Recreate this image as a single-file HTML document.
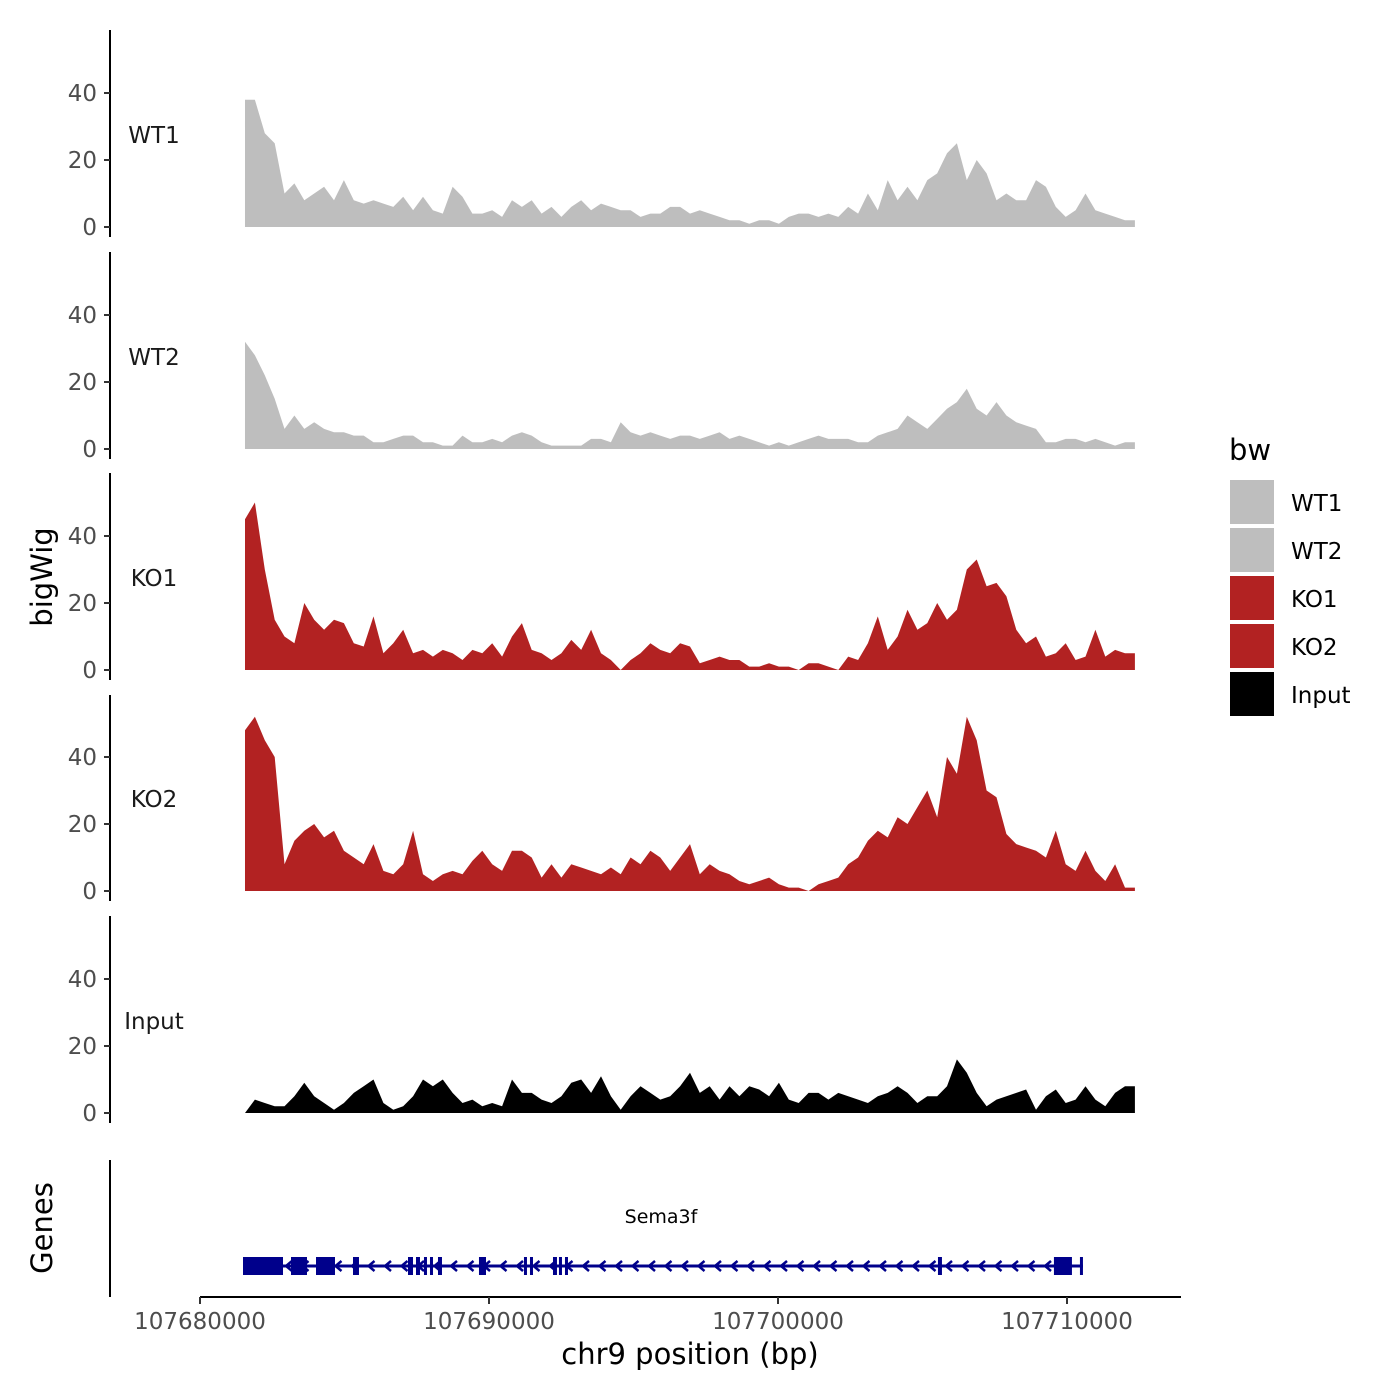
<!DOCTYPE html>
<html><head><meta charset="utf-8">
<style>
html,body{margin:0;padding:0;background:#fff;}
svg{display:block;font-family:"DejaVu Sans","Liberation Sans",sans-serif;}
</style></head>
<body>
<svg id="chart" width="1400" height="1400" viewBox="0 0 1400 1400"></svg>
<script>
const trackNames = ["WT1","WT2","KO1","KO2","Input"];
const trackColors = ["#bebebe","#bebebe","#b22222","#b22222","#000000"];
const startBp = 107681557;
const endBp = 107712350;
const wt1 = [38,38,28,25,10,13,8,10,12,8,14,8,7,8,7,6,9,5,9,5,4,12,9,4,4,5,3,8,6,8,4,6,3,6,8,5,7,6,5,5,3,4,4,6,6,4,5,4,3,2,2,1,2,2,1,3,4,4,3,4,3,6,4,10,5,14,8,12,8,14,16,22,25,14,20,16,8,10,8,8,14,12,6,3,5,10,5,4,3,2,2];
const wt2 = [32,28,22,15,6,10,6,8,6,5,5,4,4,2,2,3,4,4,2,2,1,1,4,2,2,3,2,4,5,4,2,1,1,1,1,3,3,2,8,5,4,5,4,3,4,4,3,4,5,3,4,3,2,1,2,1,2,3,4,3,3,3,2,2,4,5,6,10,8,6,9,12,14,18,12,10,14,10,8,7,6,2,2,3,3,2,3,2,1,2,2];
const ko1 = [45,50,30,15,10,8,20,15,12,15,14,8,7,16,5,8,12,5,6,4,6,5,3,6,5,8,4,10,14,6,5,3,5,9,6,12,5,3,0,3,5,8,6,5,8,7,2,3,4,3,3,1,1,2,1,1,0,2,2,1,0,4,3,8,16,6,10,18,12,14,20,15,18,30,33,25,26,22,12,8,10,4,5,8,3,4,12,4,6,5,5];
const ko2 = [48,52,45,40,8,15,18,20,16,18,12,10,8,14,6,5,8,18,5,3,5,6,5,9,12,8,6,12,12,10,4,8,4,8,7,6,5,7,5,10,8,12,10,6,10,14,5,8,6,5,3,2,3,4,2,1,1,0,2,3,4,8,10,15,18,16,22,20,25,30,22,40,35,52,45,30,28,17,14,13,12,10,18,8,6,12,6,3,8,1,1];
const inputVals = [0,4,3,2,2,5,9,5,3,1,3,6,8,10,3,1,2,5,10,8,10,6,3,4,2,3,2,10,6,6,4,3,5,9,10,6,11,5,1,5,8,6,4,5,8,12,6,8,4,8,5,8,7,5,9,4,3,6,6,4,6,5,4,3,5,6,8,6,3,5,5,8,16,12,6,2,4,5,6,7,1,5,7,3,4,8,4,2,6,8,8];
const series = [wt1, wt2, ko1, ko2, inputVals];
const yTicks = [0,20,40];
const xTicks = [107680000,107690000,107700000,107710000];
const xTickLabels = ["107680000","107690000","107700000","107710000"];
const geneName = "Sema3f";
const geneStart = 107681488;
const geneEnd = 107710552;
const exonStarts = [107681488,107683149,107684014,107685294,107687197,107687474,107687750,107687958,107688235,107689653,107691210,107691418,107692214,107692421,107692629,107705535,107709548,107710448];
const exonEnds   = [107682872,107683702,107684671,107685501,107687370,107687612,107687854,107688027,107688373,107689896,107691314,107691522,107692352,107692525,107692733,107705673,107710171,107710552];
const legendLabels = ["WT1","WT2","KO1","KO2","Input"];

const NS = "http://www.w3.org/2000/svg";
const svg = document.getElementById("chart");
function mk(tag, attrs, parent){
  const e = document.createElementNS(NS, tag);
  for (const k in attrs) e.setAttribute(k, attrs[k]);
  (parent||svg).appendChild(e);
  return e;
}
const xScale = bp => 200 + (bp - 107680000) * 0.0289;
const pxPerUnit = 3.35;
const panelBase = [227, 449, 670, 891, 1113];
const panelTop = [30, 252, 473, 695, 916];

for (let t = 0; t < 5; t++) {
  const g = mk("g", {});
  
  
  const base = panelBase[t];
  const yS = v => base - v * pxPerUnit;
  const vals = series[t];
  const n = vals.length;
  let d = "M" + xScale(startBp) + "," + base;
  vals.forEach((v, i) => {
    const bp = startBp + (endBp - startBp) * i / (n - 1);
    d += " L" + xScale(bp).toFixed(1) + "," + yS(v).toFixed(1);
  });
  d += " L" + xScale(endBp) + "," + base + " Z";
  const area = mk("path", {d: d, fill: trackColors[t]}, g);
  
  
  const ax = mk("line", {x1:110, x2:110, y1:panelTop[t], y2:base+10, stroke:"#000", "stroke-width":2}, g);
  
  
  yTicks.forEach(v => {
    const tk = mk("line", {x1:104, x2:110, y1:yS(v), y2:yS(v), stroke:"#333", "stroke-width":2}, g);
    
    
    const tl = mk("text", {x:97, y:yS(v)+8, "text-anchor":"end", "font-size":23, fill:"#4d4d4d"}, g);
    tl.textContent = v;
    
    
  });
  const lab = mk("text", {x:154, y:base-84, "text-anchor":"middle", "font-size":23, fill:"#1a1a1a"}, g);
  lab.textContent = trackNames[t];
  
  
}

// y title
const yt = mk("text", {x:0, y:0, transform:"translate(52,577) rotate(-90)", "text-anchor":"middle", "font-size":29, fill:"#000"});
yt.textContent = "bigWig";



// gene track
const gg = mk("g", {});


const gax = mk("line", {x1:110, x2:110, y1:1160, y2:1297, stroke:"#000", "stroke-width":2}, gg);


const gt = mk("text", {x:0, y:0, transform:"translate(52,1228) rotate(-90)", "text-anchor":"middle", "font-size":29, fill:"#000"}, gg);
gt.textContent = "Genes";


const gy = 1266;
const intron = mk("line", {x1:xScale(geneStart), x2:xScale(geneEnd), y1:gy, y2:gy, stroke:"#00008b", "stroke-width":3}, gg);


for (let x = xScale(geneStart) + 12; x < xScale(geneEnd) - 5; x += 16.5) {
  const ch = mk("path", {d:"M"+(x+4)+","+(gy-5)+" L"+(x-2)+","+gy+" L"+(x+4)+","+(gy+5), fill:"none", stroke:"#00008b", "stroke-width":2.5}, gg);
  
  
}
exonStarts.forEach((s, i) => {
  const x1 = xScale(s), x2 = xScale(exonEnds[i]);
  const r = mk("rect", {x:x1, y:gy-9, width:Math.max(3, x2-x1), height:18, fill:"#00008b"}, gg);
  
  
});
const gl = mk("text", {x:661, y:1223, "text-anchor":"middle", "font-size":19, fill:"#000"}, gg);
gl.textContent = geneName;



// x axis
const xa = mk("line", {x1:200, x2:1181, y1:1297, y2:1297, stroke:"#000", "stroke-width":2});


xTicks.forEach((v, i) => {
  const x = xScale(v);
  const tk = mk("line", {x1:x, x2:x, y1:1297, y2:1304, stroke:"#333", "stroke-width":2});
  
  
  const tl = mk("text", {x:x, y:1329, "text-anchor":"middle", "font-size":23, fill:"#4d4d4d"});
  tl.textContent = xTickLabels[i];
  
  
});
const xt = mk("text", {x:690, y:1364, "text-anchor":"middle", "font-size":29, fill:"#000"});
xt.textContent = "chr9 position (bp)";



// legend
const lg = mk("g", {});


const lt = mk("text", {x:1229, y:460, "font-size":29, fill:"#000"}, lg);
lt.textContent = "bw";


legendLabels.forEach((l, i) => {
  const y = 480 + i * 48;
  const r = mk("rect", {x:1230, y:y, width:44, height:44, fill:trackColors[i]}, lg);
  
  
  const tx = mk("text", {x:1291, y:y+31, "font-size":23, fill:"#000"}, lg);
  tx.textContent = l;
  
  
});
</script>
</body></html>
